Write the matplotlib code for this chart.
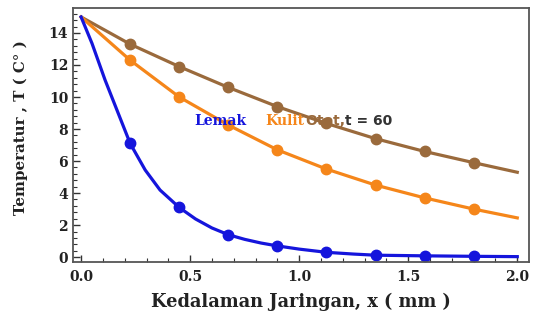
import matplotlib
matplotlib.use('Agg')
import matplotlib.pyplot as plt
from matplotlib.ticker import MultipleLocator

# marker positions (mm)
x_pts = [0.225, 0.45, 0.675, 0.9, 1.125, 1.35, 1.575, 1.8]
lemak_pts = [7.1, 3.1, 1.4, 0.7, 0.3, 0.12, 0.08, 0.05]
kulit_pts = [12.3, 10.0, 8.25, 6.7, 5.5, 4.5, 3.7, 3.0]
otot_pts = [13.3, 11.9, 10.6, 9.4, 8.35, 7.4, 6.6, 5.9]

# curves
lemak_x = [0.0, 0.05, 0.11, 0.164, 0.225, 0.294, 0.362, 0.45, 0.525, 0.6, 0.675, 0.75, 0.825, 0.9,
           1.0, 1.125, 1.25, 1.35, 1.575, 1.8, 2.0]
lemak_y = [15.0, 13.35, 11.06, 9.2, 7.1, 5.44, 4.19, 3.1, 2.38, 1.82, 1.4, 1.11, 0.88, 0.7,
           0.5, 0.3, 0.19, 0.12, 0.08, 0.05, 0.03]
curve_x = [0.0, 0.225, 0.45, 0.675, 0.9, 1.125, 1.35, 1.575, 1.8, 2.0]
kulit_y = [15.0, 12.3, 10.0, 8.25, 6.7, 5.5, 4.5, 3.7, 3.0, 2.45]
otot_y = [15.0, 13.3, 11.9, 10.6, 9.4, 8.35, 7.4, 6.6, 5.9, 5.3]

blue = '#1515dc'
orange = '#f5861a'
brown = '#9a6a3c'

fig = plt.figure(figsize=(5.33, 3.2), dpi=100)
ax = fig.add_axes([0.137, 0.181, 0.856, 0.794])

for cx, cy, px, py, c in [(curve_x, otot_y, x_pts, otot_pts, brown),
                          (curve_x, kulit_y, x_pts, kulit_pts, orange),
                          (lemak_x, lemak_y, x_pts, lemak_pts, blue)]:
    ax.plot(cx, cy, color=c, lw=2.3, solid_joinstyle='round')
    ax.plot(px, py, 'o', color=c, ms=7.5)

ax.set_xlim(-0.037, 2.055)
ax.set_ylim(-0.31, 15.56)
ax.xaxis.set_major_locator(MultipleLocator(0.5))
ax.xaxis.set_minor_locator(MultipleLocator(0.1))
ax.yaxis.set_major_locator(MultipleLocator(2))
ax.yaxis.set_minor_locator(MultipleLocator(0.4))
ax.tick_params(which='both', direction='in', top=False, right=False, colors='#333333')
ax.tick_params(which='major', length=5, width=1)
ax.tick_params(which='minor', length=3, width=0.8)
ax.tick_params(axis='x', pad=6)
ax.xaxis.set_major_formatter(plt.FuncFormatter(lambda v, p: f'{v:.1f}'))
for s in ax.spines.values():
    s.set_color('#555555')
    s.set_linewidth(1.3)

for lab in ax.get_xticklabels() + ax.get_yticklabels():
    lab.set_family('DejaVu Serif')
    lab.set_fontweight('bold')
    lab.set_fontsize(10)
    lab.set_color('#222222')

ax.set_xlabel('Kedalaman Jaringan, x ( mm )', family='DejaVu Serif', fontweight='bold',
              fontsize=12.8, labelpad=6, color='#222222')
ax.set_ylabel('Temperatur , T ( C° )', family='DejaVu Serif', fontweight='bold',
              fontsize=10.8, color='#222222')
ax.yaxis.set_label_coords(-0.099, 0.53)

ax.text(0.52, 8.5, 'Lemak', color=blue, family='DejaVu Serif', fontweight='bold', fontsize=10, va='center')
ax.text(0.845, 8.5, 'Kulit', color=orange, family='DejaVu Serif', fontweight='bold', fontsize=10, va='center')
ax.text(1.03, 8.5, 'Otot,', color=brown, family='DejaVu Sans', fontweight='bold', fontsize=10, va='center')
ax.text(1.21, 8.5, 't = 60', color='#333333', family='DejaVu Sans', fontweight='bold', fontsize=10, va='center')

fig.savefig('out.png', dpi=100)
